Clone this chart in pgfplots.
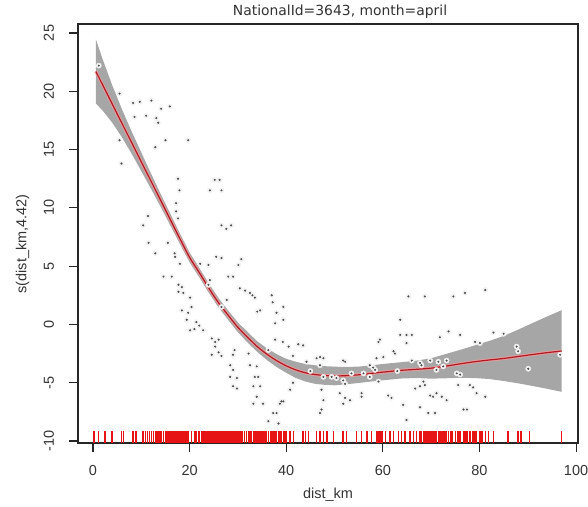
\documentclass[border=0pt]{standalone}
\usepackage{fontspec}
\setmainfont{Liberation Sans}
\newfontfamily\titlefont{DejaVu Sans}
\usepackage{pgfplots}
\pgfplotsset{compat=1.18}
\usepackage{pgfplotstable}
\usepgfplotslibrary{fillbetween}

\definecolor{bandgray}{RGB}{166,166,166}
\definecolor{ptgray}{RGB}{75,75,75}
\definecolor{rugred}{RGB}{230,20,20}
\definecolor{fitred}{RGB}{175,25,35}

% fitted smooth with band
\pgfplotstableread{
x fit lo hi
0.6 21.70 18.95 24.45
2 20.55 18.35 22.75
4 18.90 17.30 20.50
6 17.25 16.05 18.45
8 15.60 14.65 16.55
10 13.95 13.15 14.75
12 12.30 11.65 12.95
14 10.65 10.10 11.20
16 9.00 8.50 9.50
18 7.35 6.90 7.80
20 5.75 5.33 6.17
22 4.45 4.05 4.85
24 3.10 2.70 3.50
26 1.85 1.45 2.25
28 0.78 0.38 1.18
30 -0.25 -0.67 0.17
32 -1.10 -1.55 -0.65
34 -1.90 -2.35 -1.45
36 -2.55 -3.05 -2.05
38 -3.10 -3.65 -2.55
40 -3.55 -4.15 -2.95
42 -3.90 -4.60 -3.20
44 -4.15 -4.90 -3.40
46 -4.30 -5.10 -3.50
48 -4.38 -5.18 -3.58
50 -4.42 -5.22 -3.62
52 -4.40 -5.15 -3.65
55 -4.32 -5.02 -3.62
58 -4.18 -4.88 -3.48
61 -4.05 -4.75 -3.35
64 -3.93 -4.63 -3.23
67 -3.85 -4.60 -3.10
70 -3.75 -4.65 -2.90
73 -3.58 -4.62 -2.54
76 -3.38 -4.58 -2.18
79 -3.20 -4.60 -1.80
82 -3.05 -4.68 -1.42
85 -2.92 -4.85 -0.99
88 -2.75 -5.05 -0.45
91 -2.58 -5.28 0.12
94 -2.42 -5.52 0.68
97 -2.28 -5.78 1.22
}\fitdata

% partial residuals
\pgfplotstableread{
x y
1.2 22.2
5.5 19.8
8.3 19.0
9.7 19.1
12.1 19.2
14.1 18.5
15.9 18.7
8.6 17.8
11.0 17.9
13.1 17.7
13.5 17.3
5.5 15.8
15.0 15.8
19.7 15.8
12.9 15.2
5.9 13.8
17.6 12.5
17.9 11.5
17.2 10.4
17.2 9.7
11.4 9.3
17.6 9.1
10.4 8.5
11.5 7.0
15.5 7.0
12.9 6.1
16.9 6.1
17.0 5.8
18.0 5.2
14.6 4.1
16.3 4.1
17.7 3.4
18.4 3.2
17.7 2.8
18.7 2.7
20.1 2.3
20.4 1.5
19.7 1.0
18.4 1.2
19.4 0.4
20.1 -0.5
25.2 12.4
26.2 12.4
24.2 11.5
26.6 11.5
26.6 8.5
27.6 8.2
28.6 8.5
25.5 5.8
26.6 5.7
30.7 5.6
22.2 5.2
23.9 5.1
30.1 5.1
28.0 4.1
29.0 4.1
24.2 3.8
23.9 3.4
30.4 3.1
31.5 2.9
32.5 2.7
33.0 2.5
33.5 2.3
37.0 2.5
37.2 1.9
39.4 1.5
34.6 1.2
34.0 1.1
38.0 1.0
37.7 0.1
39.4 0.4
27.7 2.1
26.6 1.5
21.4 0.2
22.0 -0.1
22.8 -0.5
21.0 -0.4
24.6 -1.2
25.3 -1.5
26.0 -1.3
25.3 -1.9
26.0 -2.4
26.6 -2.7
29.0 -2.6
29.3 -2.2
24.6 -2.6
32.2 -2.5
37.7 -1.3
39.3 -1.5
40.5 -1.9
42.5 -1.7
43.5 -1.8
41.4 -2.7
44.2 -3.2
46.3 -2.9
36.3 -2.2
32.5 -3.5
33.9 -3.6
28.4 -3.5
29.0 -3.9
28.4 -4.5
29.8 -4.6
29.0 -5.3
29.8 -5.5
33.5 -4.5
34.2 -4.5
33.2 -5.3
34.6 -5.3
33.9 -6.2
35.2 -6.8
33.2 -6.8
37.3 -7.6
38.0 -7.6
38.7 -6.8
39.4 -6.6
36.3 -8.3
38.4 -8.5
41.4 -5.0
40.8 -5.6
39.0 -6.6
47.7 -6.5
47.3 -5.6
47.3 -7.3
47.0 -7.6
51.8 -6.8
52.2 -6.3
51.1 -5.9
53.2 -6.5
47.0 -3.5
51.8 -3.1
52.2 -3.2
49.4 -4.5
50.4 -4.6
47.7 -4.5
47.0 -2.8
47.7 -2.9
51.8 -4.8
52.2 -5.1
55.6 -5.9
56.0 -4.2
55.6 -6.2
57.3 -3.5
58.0 -3.7
58.4 -3.9
58.7 -2.9
59.4 -1.3
59.1 -1.5
60.1 -2.8
59.1 -4.9
57.3 -4.5
65.3 2.4
68.7 2.4
74.6 2.4
77.0 2.7
81.2 2.95
63.6 0.4
63.6 -0.9
64.9 -0.9
66.0 -0.9
64.9 -1.6
73.6 -0.6
71.8 -1.1
76.0 -0.9
79.1 -1.5
80.1 -1.6
82.9 -0.7
85.0 -0.8
87.7 -1.9
88.0 -2.3
90.1 -3.8
96.7 -2.6
62.2 -2.3
62.5 -2.5
66.0 -3.1
67.7 -3.3
68.0 -3.5
69.8 -3.1
71.5 -3.2
73.2 -3.1
71.1 -3.9
72.5 -3.6
75.3 -4.2
76.0 -4.3
61.1 -6.1
61.8 -6.3
64.2 -6.9
66.7 -5.5
67.7 -5.3
68.4 -4.9
68.7 -5.2
69.8 -6.1
70.4 -6.2
71.1 -5.9
72.2 -6.2
73.2 -6.5
69.4 -7.6
70.8 -7.6
67.7 -7.1
64.9 -8.2
76.7 -7.3
77.4 -7.3
78.0 -5.2
78.7 -5.4
79.4 -5.9
81.2 -6.2
75.6 -5.2
53.5 -4.2
63.0 -4.0
45.0 -4.0
}\resid

% rug positions (dist_km), ticks rise from the bottom of the frame
\pgfplotstableread{
x y
0.2 -10.17
1.1 -10.17
2.5 -10.17
3.9 -10.17
5.9 -10.17
6.3 -10.17
8.3 -10.17
8.9 -10.17
10.4 -10.17
10.9 -10.17
11.3 -10.17
11.7 -10.17
12.1 -10.17
12.5 -10.17
12.9 -10.17
13.2 -10.17
13.5 -10.17
13.9 -10.17
14.2 -10.17
14.6 -10.17
15.0 -10.17
15.3 -10.17
15.6 -10.17
15.9 -10.17
16.3 -10.17
16.6 -10.17
17.0 -10.17
17.2 -10.17
17.4 -10.17
17.6 -10.17
17.8 -10.17
18.0 -10.17
18.2 -10.17
18.4 -10.17
18.6 -10.17
18.8 -10.17
19.0 -10.17
19.2 -10.17
19.4 -10.17
19.7 -10.17
20.4 -10.17
21.1 -10.17
21.4 -10.17
21.8 -10.17
22.1 -10.17
22.5 -10.17
22.8 -10.17
23.1 -10.17
23.4 -10.17
23.6 -10.17
23.9 -10.17
24.2 -10.17
24.4 -10.17
24.6 -10.17
24.9 -10.17
25.2 -10.17
25.4 -10.17
25.6 -10.17
25.9 -10.17
26.2 -10.17
26.4 -10.17
26.6 -10.17
26.9 -10.17
27.2 -10.17
27.5 -10.17
27.7 -10.17
28.0 -10.17
28.3 -10.17
28.6 -10.17
28.8 -10.17
29.0 -10.17
29.3 -10.17
29.6 -10.17
29.8 -10.17
30.1 -10.17
30.4 -10.17
30.7 -10.17
31.0 -10.17
31.4 -10.17
31.8 -10.17
32.2 -10.17
32.5 -10.17
32.8 -10.17
33.2 -10.17
33.5 -10.17
33.9 -10.17
34.2 -10.17
34.6 -10.17
35.0 -10.17
35.3 -10.17
35.6 -10.17
35.9 -10.17
36.3 -10.17
36.7 -10.17
37.0 -10.17
37.3 -10.17
37.7 -10.17
38.0 -10.17
38.4 -10.17
38.7 -10.17
39.0 -10.17
39.4 -10.17
39.7 -10.17
40.1 -10.17
40.8 -10.17
41.5 -10.17
43.5 -10.17
44.0 -10.17
44.6 -10.17
46.3 -10.17
47.0 -10.17
47.7 -10.17
48.4 -10.17
49.8 -10.17
51.8 -10.17
52.5 -10.17
54.6 -10.17
55.6 -10.17
56.7 -10.17
57.7 -10.17
58.7 -10.17
59.0 -10.17
59.4 -10.17
59.8 -10.17
60.5 -10.17
61.5 -10.17
62.2 -10.17
63.2 -10.17
63.9 -10.17
64.6 -10.17
65.6 -10.17
66.3 -10.17
67.0 -10.17
67.7 -10.17
68.0 -10.17
68.4 -10.17
68.7 -10.17
69.1 -10.17
69.4 -10.17
69.8 -10.17
70.1 -10.17
70.4 -10.17
70.8 -10.17
71.1 -10.17
71.5 -10.17
71.8 -10.17
72.2 -10.17
72.5 -10.17
72.9 -10.17
73.2 -10.17
73.6 -10.17
74.0 -10.17
74.3 -10.17
75.0 -10.17
75.6 -10.17
76.0 -10.17
76.7 -10.17
77.0 -10.17
77.4 -10.17
78.0 -10.17
78.7 -10.17
79.1 -10.17
79.4 -10.17
80.1 -10.17
80.5 -10.17
81.2 -10.17
81.9 -10.17
82.9 -10.17
85.9 -10.17
88.0 -10.17
88.6 -10.17
90.4 -10.17
97.0 -10.17
}\rug

\begin{document}
\begin{tikzpicture}
\begin{axis}[
    name=ax,
    scale only axis, width=500pt, height=419pt,
    xmin=-3.1, xmax=100.4, ymin=-10.17, ymax=25.77,
    xtick={0,20,...,100}, ytick={-10,-5,...,25},
    xtick pos=bottom, ytick pos=left,
    tick align=outside, major tick length=9pt,
    axis line style={line width=1.1pt, black!85},
    major tick style={line width=1.1pt, black!85},
    /pgf/number format/assume math mode=true,
    tick label style={font=\fontsize{14.5}{16}\selectfont, black!80},
    xticklabel style={anchor=center, yshift=-19pt},
    yticklabel style={rotate=90, anchor=center, yshift=20pt},
    label style={font=\fontsize{14.5}{16}\selectfont, black!80},
    xlabel={dist\_km},
    ylabel={s(dist\_km,4.42)},
    xlabel style={at={(axis description cs:0.5,-0.124)}, anchor=center},
    ylabel style={at={(axis description cs:-0.111,0.475)}, anchor=center, rotate=0},
    every axis title shift=0pt,
    title={\titlefont\fontsize{13.9}{16}\selectfont NationalId=3643, month=april},
    title style={at={(axis description cs:0.524,1.029)}, anchor=center, text=black!80},
    clip=true,
]
% halos of the residual points
\addplot[only marks, mark=*, mark size=2.6pt, mark options={fill=black!5, draw=black!5}, forget plot] table[x=x, y=y] {\resid};
% confidence band
\addplot[name path=hi, draw=none, forget plot] table[x=x, y=hi] {\fitdata};
\addplot[name path=lo, draw=none, forget plot] table[x=x, y=lo] {\fitdata};
\addplot[bandgray, draw=none] fill between[of=hi and lo];
% fitted smooth
\addplot[smooth, red!40!white, line width=3.2pt, opacity=0.7] table[x=x, y=fit] {\fitdata};
\addplot[smooth, fitred, line width=1.2pt] table[x=x, y=fit] {\fitdata};
% residuals
\addplot[only marks, mark=*, mark size=0.8pt, mark options={fill=ptgray, draw=ptgray}] table[x=x, y=y] {\resid};
% rug
\addplot[draw=none, mark=none,
    error bars/.cd, y dir=plus, y fixed=1.03,
    error mark=none, error bar style={rugred, line width=1.5pt}]
    table[x=x, y=y] {\rug};
\end{axis}
\pgfresetboundingbox
\path[use as bounding box] (ax.south west) ++(-78pt,-63pt) rectangle ++(588pt,506pt);
\end{tikzpicture}
\end{document}
